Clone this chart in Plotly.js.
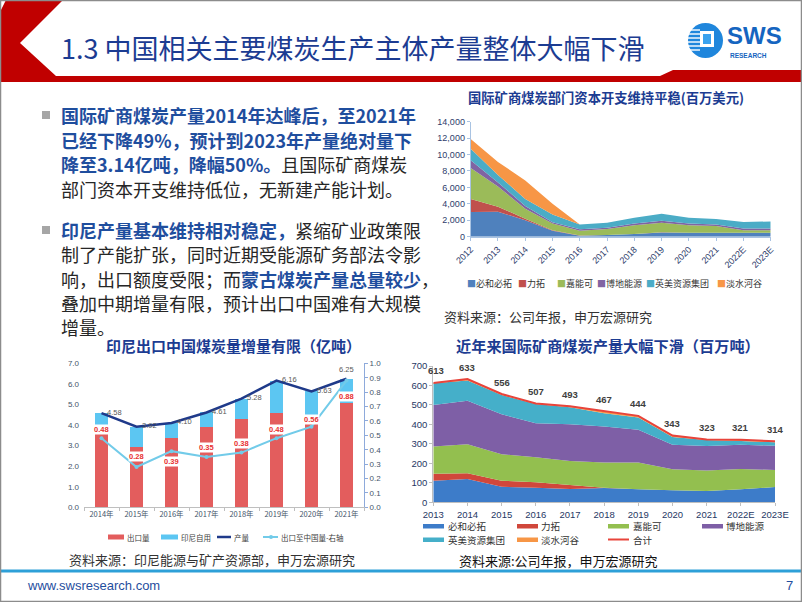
<!DOCTYPE html>
<html><head><meta charset="utf-8">
<script src="https://cdn.plot.ly/plotly-3.0.1.min.js"></script>
<style>html,body{margin:0;padding:0;overflow:hidden;background:#fff}#chart{width:802px;height:602px}</style>
</head><body><div id="chart"></div>
<script>
// ---------- Chart 1: capex (百万美元) ----------
const capexYears=['2012','2013','2014','2015','2016','2017','2018','2019','2020','2021','2022E','2023E'];
const capexBHP=[3000,3050,2000,730,120,200,320,520,480,480,480,480];
const capexRio=[1600,600,200,70,30,10,10,10,10,10,10,10];
const capexGlencore=[3750,2450,1200,800,570,730,1070,1170,910,810,310,310];
const capexPeabody=[950,500,350,150,180,160,200,250,200,200,200,200];
const capexAnglo=[1400,900,850,950,600,600,700,850,700,650,800,850];
const capexVale=[1200,1600,2250,1300,0,0,0,0,0,0,0,0];
const companies=['必和必拓','力拓','嘉能可','博地能源','英美资源集团','淡水河谷'];

// ---------- Chart 2: Indonesia (亿吨) ----------
const indoYears=['2014年','2015年','2016年','2017年','2018年','2019年','2020年','2021年'];
const indoExport=[3.82,2.92,3.35,3.92,4.28,4.57,4.05,5.09];
const indoDomestic=[0.76,1.00,0.75,0.69,1.00,1.59,1.58,1.16];
const indoProduction=[4.58,3.92,4.10,4.61,5.28,6.16,5.63,6.25];
const indoToChina=[0.48,0.28,0.39,0.35,0.38,0.48,0.56,0.88];
const indoNames=['出口量','印尼自用','产量','出口至中国量-右轴'];

// ---------- Chart 3: production (百万吨) ----------
const prodYears=['2013','2014','2015','2016','2017','2018','2019','2020','2021','2022E','2023E'];
const prodBHP=[111,120,80,75,68,74,67,62,58,67,78];
const prodRio=[35,29,31,28,21,1,0,0,0,0,0];
const prodGlencore=[140,149,136,128,123,129,138,108,105,104,88];
const prodPeabody=[214,224,205,175,189,185,167,126,126,124,125];
const prodAnglo=[111,103,99,99,87,68,63,40,31,20,17];
const prodVale=[2,8,5,2,5,10,9,7,3,6,6];
const prodTotal=[613,633,556,507,493,467,444,343,323,321,314];
const totalName='合计';

// ---------- helpers & styles ----------
const W=802,H=602;
const px=x=>x/W, py=y=>1-y/H;
const CJK='"Noto Sans CJK SC", sans-serif';
const NUM='Arial, "Liberation Sans", "Noto Sans CJK SC", sans-serif';
const colA=['#4f81bd','#c0504d','#9bbb59','#8064a2','#4bacc6','#f79646'];
const colB=['#3d7cc9','#d0473b','#93bf4f','#7e5fa6','#45afc9','#f79646'];
const TOTALC='#e8443b';
const BLUE='#1f4e9e', TITLE='#1c3c92';

const traces=[];
[capexBHP,capexRio,capexGlencore,capexPeabody,capexAnglo,capexVale].forEach((s,i)=>{
  traces.push({type:'scatter',x:capexYears,y:s,xaxis:'x',yaxis:'y',stackgroup:'capex',mode:'none',
    fillcolor:colA[i],name:companies[i],showlegend:false,hoverinfo:'skip'});
});
traces.push({type:'bar',x:indoYears,y:indoExport,xaxis:'x2',yaxis:'y2',name:indoNames[0],marker:{color:'#e35d5d'},width:0.38,showlegend:false,hoverinfo:'skip'});
traces.push({type:'bar',x:indoYears,y:indoDomestic,xaxis:'x2',yaxis:'y2',name:indoNames[1],marker:{color:'#5cc6f2'},width:0.38,showlegend:false,hoverinfo:'skip'});
traces.push({type:'scatter',mode:'lines',x:indoYears,y:indoProduction,xaxis:'x2',yaxis:'y2',name:indoNames[2],line:{color:'#1f3a8a',width:2.5},showlegend:false,hoverinfo:'skip'});
traces.push({type:'scatter',mode:'lines+markers',x:indoYears,y:indoToChina,xaxis:'x2',yaxis:'y3',name:indoNames[3],line:{color:'#72cbe9',width:2},marker:{size:4,color:'#72cbe9'},showlegend:false,hoverinfo:'skip'});

[prodBHP,prodRio,prodGlencore,prodPeabody,prodAnglo,prodVale].forEach((s,i)=>{
  traces.push({type:'scatter',x:prodYears,y:s,xaxis:'x3',yaxis:'y4',stackgroup:'prod',mode:'none',
    fillcolor:colB[i],name:companies[i],showlegend:false,hoverinfo:'skip'});
});
traces.push({type:'scatter',mode:'lines',x:prodYears,y:prodTotal,xaxis:'x3',yaxis:'y4',name:totalName,line:{color:TOTALC,width:2},showlegend:false,hoverinfo:'skip'});

// ---------- annotations ----------
const ann=[];
function txt(x,y,text,size,color,opts){ann.push(Object.assign({xref:'paper',yref:'paper',x:px(x),y:py(y),text:text,showarrow:false,xanchor:'left',yanchor:'middle',borderpad:0,font:{family:CJK,size:size,color:color}},opts||{}));}

txt(60,47,'1.3 中国相关主要煤炭生产主体产量整体大幅下滑',27,TITLE);
// paragraph text
const B=s=>'<span style="color:'+BLUE+'"><b>'+s+'</b></span>';
const lines=[
 [115,B('国际矿商煤炭产量2014年达峰后，至2021年')],
 [140,B('已经下降49%，预计到2023年产量绝对量下')],
 [164,B('降至3.14亿吨，降幅50%。')+'且国际矿商煤炭'],
 [189,'部门资本开支维持低位，无新建产能计划。'],
 [230,B('印尼产量基本维持相对稳定，')+'紧缩矿业政策限'],
 [254,'制了产能扩张，同时近期受能源矿务部法令影'],
 [279,'响，出口额度受限；而'+B('蒙古煤炭产量总量较少')+'，'],
 [303,'叠加中期增量有限，预计出口中国难有大规模'],
 [327,'增量。']
];
lines.forEach(l=>txt(60,l[0],l[1],18,'#262626'));

// chart titles
txt(467,97,'<b>国际矿商煤炭部门资本开支维持平稳(百万美元)</b>',13.3,TITLE);
txt(105,345,'<b>印尼出口中国煤炭量增量有限（亿吨）</b>',15,TITLE);
txt(455,345,'<b>近年来国际矿商煤炭产量大幅下滑（百万吨）</b>',15.2,TITLE);

// chart 1 legend (text)
const leg1X=[466,517,556,596,645,716];
companies.forEach((c,i)=>txt(leg1X[i],283,'<span style="color:'+colA[i]+'">■</span>'+c,9,'#333'));

// sources
txt(443,316,'资料来源：公司年报，申万宏源研究',13,'#333');
txt(68,559,'资料来源：印尼能源与矿产资源部，申万宏源研究',13,'#333');
txt(458,560,'资料来源:公司年报，申万宏源研究',13,'#111');

// chart 2 legend text
txt(126,537,indoNames[0],7.5,'#404040');
txt(180,537,indoNames[1],7.5,'#404040');
txt(233,537,indoNames[2],7.5,'#404040');
txt(280,537,indoNames[3],7.5,'#404040');

// chart 3 legend text
const leg3=[[447,526],[540,526],[632,526],[725,526],[447,539.5],[540,539.5]];
companies.forEach((c,i)=>txt(leg3[i][0],leg3[i][1],c,9.5,'#333'));
txt(632,539.5,totalName,9.5,'#333');

// chart 2 data labels
indoProduction.forEach((v,i)=>{
  const last=i===indoProduction.length-1;
  ann.push({xref:'x2',yref:'y2',x:i,y:v,text:v.toFixed(2),showarrow:false,
    xshift:last?0:13,yshift:last?9:1,font:{family:NUM,size:7.5,color:'#595959'}});
});
const toChinaShift=[9,10,-10,9.5,9,9,7,-16];
indoToChina.forEach((v,i)=>{
  ann.push({xref:'x2',yref:'y3',x:i,y:v,text:'<b>'+v.toFixed(2)+'</b>',showarrow:false,
    yshift:toChinaShift[i],bgcolor:'#ffffff',borderpad:0,font:{family:NUM,size:7.5,color:'#e8302f'}});
});
// chart 3 totals
prodTotal.forEach((v,i)=>{
  ann.push({xref:'x3',yref:'y4',x:i,y:v,text:'<b>'+v+'</b>',showarrow:false,
    yshift:12,xshift:i===0?3:0,font:{family:NUM,size:9.5,color:'#404040'}});
});

// footer
ann.push({xref:'paper',yref:'paper',x:px(25),y:py(585),text:'www.swsresearch.com',showarrow:false,xanchor:'left',yanchor:'middle',font:{family:NUM,size:13,color:'#1f4e9e'}});
ann.push({xref:'paper',yref:'paper',x:px(789),y:py(585),text:'7',showarrow:false,xanchor:'center',yanchor:'middle',font:{family:NUM,size:13,color:'#1f4e9e'}});
// logo text
ann.push({xref:'paper',yref:'paper',x:px(726),y:py(36),text:'<b>SWS</b>',showarrow:false,xanchor:'left',yanchor:'middle',borderpad:0,font:{family:NUM,size:24,color:'#1565c0'}});
ann.push({xref:'paper',yref:'paper',x:px(729),y:py(56),text:'<b>RESEARCH</b>',showarrow:false,xanchor:'left',yanchor:'middle',borderpad:0,font:{family:NUM,size:6.5,color:'#1565c0'}});

// ---------- shapes ----------
const P=(x,y)=>px(x).toFixed(5)+','+py(y).toFixed(5);
const shapes=[];
const rectS=(x0,y0,x1,y1,c)=>shapes.push({type:'rect',xref:'paper',yref:'paper',x0:px(x0),x1:px(x1),y0:py(y1),y1:py(y0),fillcolor:c,line:{width:0}});
const lineS=(x0,y0,x1,y1,c,w)=>shapes.push({type:'line',xref:'paper',yref:'paper',x0:px(x0),x1:px(x1),y0:py(y0),y1:py(y1),line:{color:c,width:w}});
shapes.push({type:'path',xref:'paper',yref:'paper',line:{width:0},fillcolor:'#c00000',
  path:'M'+P(1,10)+'L'+P(6,0)+'L'+P(63,0)+'L'+P(20,43)+'L'+P(56,76)+'L'+P(660,76)+'L'+P(673,70)+'L'+P(802,70)+'L'+P(802,82)+'L'+P(1,82)+'Z'});
// logo
shapes.push({type:'circle',xref:'paper',yref:'paper',x0:px(688),x1:px(723),y0:py(58),y1:py(23),fillcolor:'#1f86dc',line:{width:0}});
rectS(700,31,714,47,'#ffffff');
rectS(703,34,711,44,'#3aa2ee');
[30,34,38,42,46,50].forEach(y=>lineS(688,y,700,y,'#ffffff',1.4));
// bullets
[115,230].forEach(y=>rectS(42,y-4,50,y+4,'#a6a6a6'));
// chart 2 legend swatches
rectS(108,534.5,124,539.5,'#e35d5d');
rectS(161,534.5,178,539.5,'#5cc6f2');
lineS(217,537,231,537,'#1f3a8a',2.5);
lineS(263,537,278,537,'#72cbe9',2);
shapes.push({type:'circle',xref:'paper',yref:'paper',x0:px(269),x1:px(273),y0:py(539),y1:py(535),fillcolor:'#72cbe9',line:{width:0}});
// chart 3 legend swatches
const sw3=[[423,524],[517,524],[608,524],[702,524],[423,537.5],[517,537.5]];
sw3.forEach((s,i)=>rectS(s[0],s[1],s[0]+21,s[1]+4.5,colB[i]));
lineS(608,539.5,629,539.5,TOTALC,2);
// footer line & frame
shapes.push({type:'line',xref:'paper',yref:'paper',x0:0,x1:1,y0:py(571),y1:py(571),line:{color:'#2ea0d8',width:3}});
shapes.push({type:'rect',xref:'paper',yref:'paper',x0:px(0.5),x1:px(801.5),y0:py(601.5),y1:py(0.5),line:{color:'#8c8c8c',width:1.5},fillcolor:'rgba(0,0,0,0)'});

// ---------- axes ----------
const c1tick={family:NUM,size:9,color:'#2e3d6b'};
const layout={
  width:802,height:602,margin:{l:0,r:0,t:0,b:0},paper_bgcolor:'#ffffff',plot_bgcolor:'rgba(0,0,0,0)',
  font:{family:NUM},barmode:'stack',showlegend:false,hovermode:false,
  xaxis:{domain:[px(470.7),px(770.7)],anchor:'y',type:'category',range:[0,11],tickmode:'linear',tick0:0,dtick:1,
    tickangle:-45,tickfont:c1tick,showline:true,linecolor:'#a9c3e2',ticks:'outside',ticklen:3,tickcolor:'#a9c3e2',showgrid:false,zeroline:false},
  yaxis:{domain:[py(236.7),py(121.7)],anchor:'x',range:[0,14000],dtick:2000,tickformat:',d',tickfont:c1tick,
    showline:true,linecolor:'#a9c3e2',ticks:'outside',ticklen:3,tickcolor:'#a9c3e2',showgrid:false,zeroline:false},
  xaxis2:{domain:[px(84),px(364)],anchor:'y2',type:'category',range:[-0.5,7.5],tickangle:0,tickfont:{family:CJK,size:7.5,color:'#44546a'},
    showline:true,linecolor:'#bfbfbf',ticks:'outside',ticklen:3,tickcolor:'#bfbfbf',tickson:'boundaries',showgrid:false,zeroline:false},
  yaxis2:{domain:[py(507.3),py(363.3)],anchor:'x2',range:[0,7],dtick:1,tickformat:'.1f',tickfont:{family:NUM,size:8,color:'#44546a'},
    showline:false,showgrid:false,zeroline:false,ticklabelstandoff:4},
  yaxis3:{overlaying:'y2',side:'right',anchor:'x2',range:[0,1],dtick:0.1,tickformat:'.1f',tickfont:{family:NUM,size:8,color:'#44546a'},
    showline:true,linecolor:'#8eaadb',ticks:'outside',ticklen:3,tickcolor:'#8eaadb',showgrid:false,zeroline:false},
  xaxis3:{domain:[px(433.3),px(775)],anchor:'y4',type:'category',range:[0,10],tickmode:'linear',tick0:0,dtick:1,tickangle:0,
    tickfont:{family:NUM,size:9.5,color:'#1f3864'},showline:true,linecolor:'#bfbfbf',ticks:'outside',ticklen:3,tickcolor:'#bfbfbf',showgrid:false,zeroline:false},
  yaxis4:{domain:[py(502.3),py(366)],anchor:'x3',range:[0,700],dtick:100,tickfont:{family:NUM,size:9.5,color:'#1f3864'},
    showline:true,linecolor:'#bfbfbf',ticks:'outside',ticklen:3,tickcolor:'#bfbfbf',showgrid:false,zeroline:false},
  annotations:ann,shapes:shapes
};
Plotly.newPlot('chart',traces,layout,{displayModeBar:false,staticPlot:true});
</script></body></html>
